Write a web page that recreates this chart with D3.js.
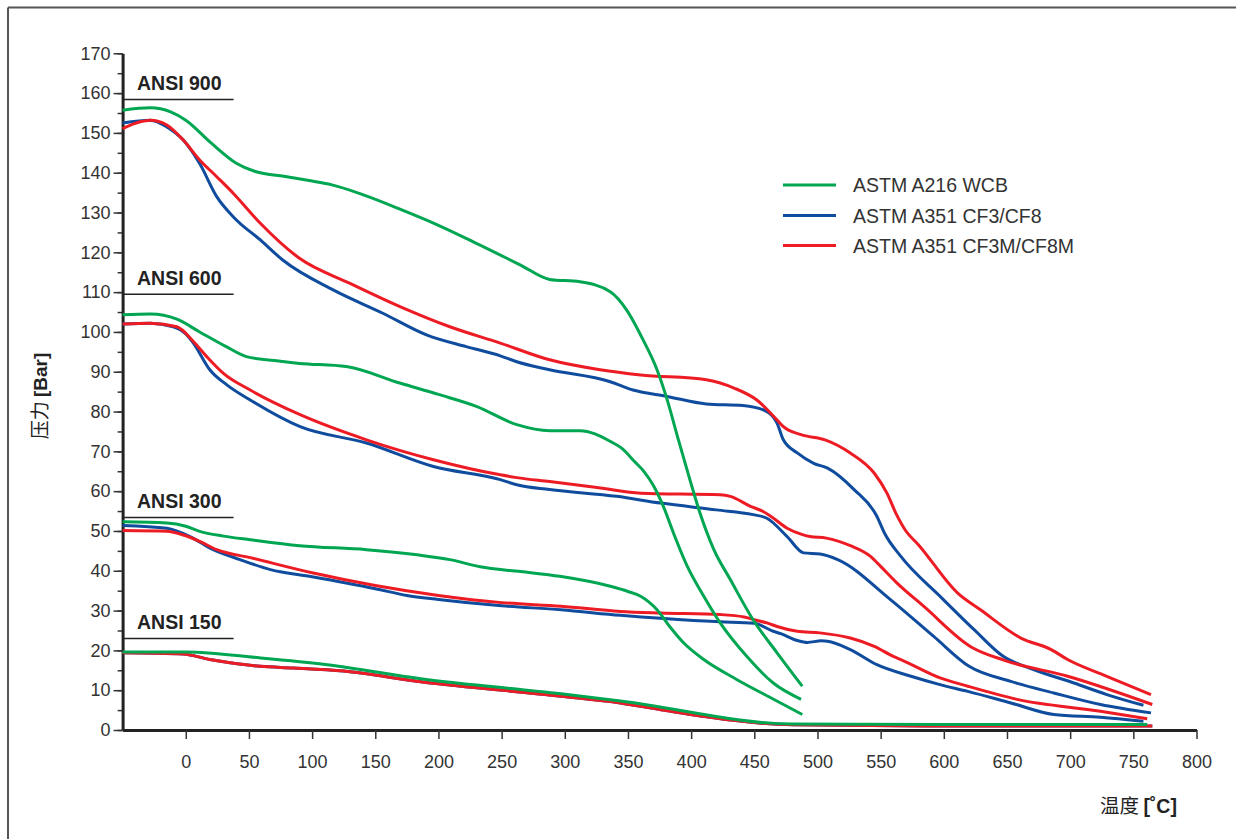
<!DOCTYPE html>
<html>
<head>
<meta charset="utf-8">
<script src="https://cdn.jsdelivr.net/npm/d3@7"></script>
<style>
  body { margin: 0; background: #fff; }
  svg text { font-family: "Liberation Sans", Arial, sans-serif; }
  .tick text { fill: #333; font-size: 18px; }
</style>
</head>
<body>
<div id="chart"></div>
<script>
// pressure classes and the short header line drawn above each group
var classNames = ["ANSI 900", "ANSI 600", "ANSI 300", "ANSI 150"];
var classMarks = [158.4, 109.5, 53.4, 23];

var materials = ["ASTM A216 WCB", "ASTM A351 CF3/CF8", "ASTM A351 CF3M/CF8M"];
var colors = ["#00a651", "#0f4c9e", "#ed1c24"];

var xTicks = [0, 50, 100, 150, 200, 250, 300, 350, 400, 450, 500, 550, 600, 650, 700, 750, 800];
var yTicks = [0, 10, 20, 30, 40, 50, 60, 70, 80, 90, 100, 110, 120, 130, 140, 150, 160, 170];

// [temperature °C, pressure bar]
var wcb900 = [[-50,155.7],[-28,156.3],[-12,155.3],[0,153.2],[20,147.5],[40,142.4],[55,140.3],[80,139],[100,137.9],[115,137],[140,134.5],[170,130.8],[200,126.8],[233,121.8],[265,116.8],[288,113.2],[312,112.6],[336,110.1],[349,105.5],[362,98],[373,90.5],[381,83],[390,72.8],[399,62.9],[407,54.5],[418,45.3],[431,37.8],[449,27.7],[468,19.4],[488,11]];
var wcb600 = [[-50,104.3],[-28,104.5],[-7,103.2],[11,100],[32,96.3],[48,93.8],[70,92.8],[90,92.1],[127,91.3],[170,87.1],[200,84.3],[230,81.3],[262,76.7],[288,75.2],[312,75.2],[336,72.5],[345,70.8],[355,67.5],[363,64.8],[370,61.5],[378,56.2],[386,49.5],[397,41.1],[410,33.6],[423,26.9],[444,18.5],[465,11.8],[487,7.7]];
var wcb300 = [[-50,52.3],[-15,52],[0,51.2],[11,49.9],[30,48.7],[51,47.8],[90,46.3],[143,45.3],[183,44],[209,42.8],[233,41],[265,39.8],[296,38.6],[336,36.1],[350,34.8],[360,33.6],[373,30.2],[383,26],[394,21.9],[410,17.7],[436,12.7],[463,8.1],[488,3.9]];
var wcb150 = [[-50,19.6],[0,19.6],[59,18.1],[112,16.4],[186,12.9],[297,9.1],[344,7.3],[481,1.5],[600,1.4],[761,1.4]];

var cf3900 = [[-50,152.5],[-28,153.2],[-15,151.5],[-2,148.2],[11,142.3],[24.5,134],[37.7,128.9],[59,123.1],[77,118],[117,110.5],[156,104.7],[191,99.2],[222,96.3],[249,94],[262,92.5],[288,90.5],[336,87.5],[354,85.4],[381,83.8],[412,81.9],[441,81.5],[460,80],[468,77.1],[473,72.9],[484,69.6],[497,67],[508,65.8],[529,60.4],[547,53.7],[553,49.5],[566,43.6],[597,33.6],[624,25.2],[647,18.5],[671,15.2],[703,11.8],[729,8.9],[758,6.2]];
var cf3600 = [[-50,102],[-28,102.2],[-10,101.3],[0,99.5],[6,97.2],[19,90.5],[32.5,86.7],[51,82.9],[90.5,76.2],[143,72.1],[196,66.2],[249,62.9],[262,61.6],[288,60.4],[341,58.7],[376,57],[420,55.3],[449,54.1],[460,53.2],[476,48.6],[489,44.5],[502,44.2],[516,42.8],[558,32.7],[592,23.5],[620,16],[653,12.2],[687,9.3],[724,6.4],[764,4.3]];
var cf3300 = [[-50,51.4],[-15,50.7],[3.4,48.6],[19.2,45.7],[43,42.8],[67,40.3],[100,38.5],[150,35.5],[175,33.8],[200,32.8],[250,31.2],[297,30.2],[344,28.8],[402,27.5],[423,27.2],[450,26.8],[465,24.8],[471,24.2],[484,22.5],[492,22],[503,22.4],[508,22.3],[526,20.2],[547,16.4],[574,13.5],[597,11.4],[619,9.7],[653,6.8],[687,3.9],[724,3.2],[758,2.2]];
var cf3150 = [[-50,19.4],[-2,19.1],[19,17.7],[35,16.9],[59,16],[85,15.6],[125,14.8],[186,12.1],[297,8.5],[344,6.8],[376,5.1],[481,1.3],[600,1.0],[765,1.0]];

var cf3m900 = [[-50,151.1],[-36,152.8],[-28,153.2],[-15,152],[-2,148.2],[11,143.2],[24.5,139],[37.7,134.8],[59,127.3],[90,118.5],[130,112.2],[170,106.3],[209,101.3],[249,97.2],[288,93],[328,90.5],[360,89.2],[412,88],[434,85.9],[452,82.9],[468,77.9],[473,76.2],[487,74.2],[506,72.9],[526,69.6],[545,64.5],[555,59.5],[562,54.5],[570,50],[580,46.5],[611,34.4],[629,30.2],[661,23.1],[685,20.2],[698,17.7],[729,13.5],[764,8.9]];
var cf3m600 = [[-50,102],[-28,102.2],[-7,101.3],[6,97.6],[16.6,93.8],[29.8,89.6],[51,85.4],[90.5,79.2],[143,72.9],[196,67.9],[249,64.1],[262,63.4],[288,62.4],[328,60.8],[360,59.5],[423,59.1],[431,58.7],[447,56.2],[457,54.9],[463,53.7],[476,50.7],[487,49.2],[494,48.6],[507,48.2],[526,46.3],[542,43.6],[550,41.1],[563,36.9],[584,31.1],[622,20.8],[648,17.5],[698,13.5],[765,6.4]];
var cf3m300 = [[-50,50.1],[-15,49.9],[-2,49],[11,47.4],[24.5,45.3],[51,43.3],[100,39.5],[150,36.3],[200,33.8],[250,32],[297,31.1],[344,29.8],[376,29.4],[423,29],[442,28.4],[450,27.7],[460,26.9],[468,26],[484,24.8],[502,24.4],[526,23.1],[545,21],[560,18.5],[566,17.7],[597,13.1],[619,11],[658,7.7],[724,4.7],[761,2.8]];
var cf3m150 = [[-50,19.4],[-2,19.1],[19,17.7],[35,16.9],[59,16],[85,15.6],[125,14.8],[186,12.1],[297,8.5],[344,6.8],[376,5.1],[481,1.3],[600,1.0],[765,1.0]];

var W = 1236, H = 839;
var svg = d3.select("#chart").append("svg").attr("width", W).attr("height", H);

var x = d3.scaleLinear().domain([-50, 800]).range([122.6, 1196.5]);
var y = d3.scaleLinear().domain([0, 170]).range([730, 53.3]);

// outer frame (top and left only)
svg.append("line").attr("x1", 8).attr("y1", 7.5).attr("x2", W).attr("y2", 7.5).attr("stroke", "#555").attr("stroke-width", 2);
svg.append("line").attr("x1", 8).attr("y1", 7.5).attr("x2", 8).attr("y2", H).attr("stroke", "#555").attr("stroke-width", 2);

// minor y ticks
svg.append("g").attr("transform", `translate(${x(-50)},0)`)
  .call(d3.axisLeft(y).ticks(34).tickSize(5).tickSizeOuter(0).tickFormat(""))
  .call(g => g.select(".domain").remove())
  .selectAll("line").attr("stroke", "#333").attr("stroke-width", 1.5);

var yAxis = svg.append("g").attr("transform", `translate(${x(-50)},0)`)
  .call(d3.axisLeft(y).tickValues(yTicks).tickSize(9).tickSizeOuter(0).tickPadding(3));
yAxis.select(".domain").attr("stroke", "#222").attr("stroke-width", 3);
yAxis.selectAll(".tick line").attr("stroke", "#333").attr("stroke-width", 1.5);

var xAxis = svg.append("g").attr("transform", `translate(0,${y(0)})`)
  .call(d3.axisBottom(x).tickValues(xTicks).tickSize(9).tickSizeOuter(0).tickPadding(16));
xAxis.select(".domain").attr("stroke", "#222").attr("stroke-width", 3);
xAxis.selectAll(".tick line").attr("stroke", "#333").attr("stroke-width", 1.5);

// curves
var line = d3.line().x(d => x(d[0])).y(d => y(d[1])).curve(d3.curveMonotoneX);
var series = [
  [cf3900, 1], [cf3600, 1], [cf3300, 1], [cf3150, 1],
  [cf3m900, 2], [cf3m600, 2], [cf3m300, 2], [cf3m150, 2],
  [wcb900, 0], [wcb600, 0], [wcb300, 0], [wcb150, 0]
];
svg.append("g").selectAll("path").data(series).join("path")
  .attr("d", d => line(d[0]))
  .attr("fill", "none")
  .attr("stroke", d => colors[d[1]])
  .attr("stroke-width", 3)
  .attr("stroke-linejoin", "round");

// class headers
var hdr = svg.append("g").selectAll("g").data(classNames).join("g");
hdr.append("line")
  .attr("x1", x(-50)).attr("x2", x(-50) + 111)
  .attr("y1", (d, i) => y(classMarks[i])).attr("y2", (d, i) => y(classMarks[i]))
  .attr("stroke", "#222").attr("stroke-width", 1.5);
hdr.append("text")
  .attr("x", 137).attr("y", (d, i) => y(classMarks[i]) - 9)
  .attr("font-size", 19.5).attr("font-weight", "bold").attr("fill", "#222")
  .text(d => d);

// legend
var leg = svg.append("g").selectAll("g").data(materials).join("g")
  .attr("transform", (d, i) => `translate(783,${[185, 215.5, 245.5][i]})`);
leg.append("line").attr("x1", 0).attr("x2", 53).attr("stroke", (d, i) => colors[i]).attr("stroke-width", 3);
leg.append("text").attr("x", 70).attr("y", 7).attr("font-size", 19.5).attr("fill", "#333").text(d => d);

// axis titles
var yt = svg.append("text").attr("transform", "translate(47,396) rotate(-90)")
  .attr("text-anchor", "middle").attr("font-size", 19).attr("fill", "#222");
yt.append("tspan").attr("font-family", "Noto Sans CJK SC").text("压力 ");
yt.append("tspan").attr("font-weight", "bold").text("[Bar]");

var xt = svg.append("text").attr("x", 1100).attr("y", 813).attr("font-size", 19.5).attr("fill", "#222");
xt.append("tspan").attr("font-family", "Noto Sans CJK SC").text("温度 ");
xt.append("tspan").attr("font-weight", "bold").text("[˚C]");
</script>
</body>
</html>
